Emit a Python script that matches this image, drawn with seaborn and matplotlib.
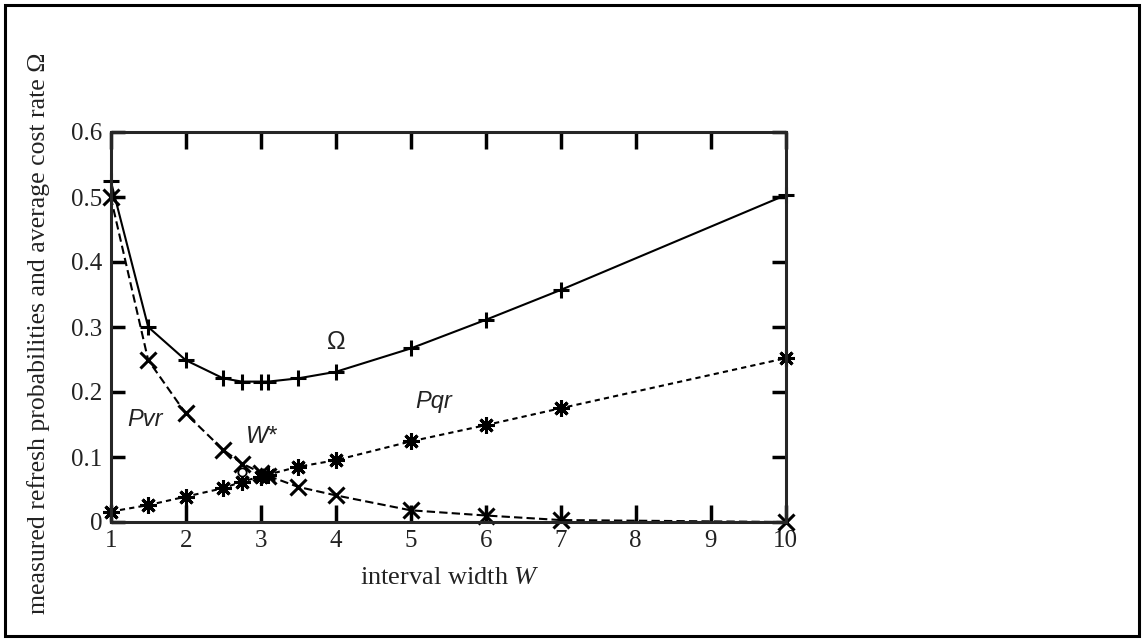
import numpy as np
import pandas as pd
import matplotlib
matplotlib.use("Agg")
import matplotlib.pyplot as plt
from matplotlib.patches import Rectangle
import seaborn as sns

# interval widths W at which the three quantities were measured
widths = [1.0, 1.5, 2.0, 2.5, 2.75, 3.0, 3.1, 3.5, 4.0, 5.0, 6.0, 7.0, 10.0]

# average cost rate (solid, "+")
omega = [0.525, 0.300, 0.249, 0.221, 0.216, 0.216, 0.216, 0.221, 0.231, 0.267, 0.311, 0.357, 0.503]
# value-initiated refresh probability (long dashes, "x")
p_vr = [0.500, 0.249, 0.167, 0.111, 0.090, 0.076, 0.071, 0.054, 0.041, 0.018, 0.010, 0.003, 0.000]
# query-initiated refresh probability (short dashes, asterisk)
p_qr = [0.016, 0.026, 0.039, 0.052, 0.062, 0.070, 0.073, 0.085, 0.095, 0.124, 0.149, 0.175, 0.252]

# optimum marked on the plot
w_star = 2.75
w_star_y = 0.077

series_names = ["Omega", "Pvr", "Pqr"]

sns.set_style("white")
plt.rcParams.update({
    "font.family": ["Liberation Serif", "DejaVu Serif"],
    "mathtext.fontset": "custom",
    "mathtext.rm": "Liberation Serif",
    "mathtext.it": "Liberation Serif:italic",
    "axes.linewidth": 2.2,
    "xtick.direction": "in",
    "ytick.direction": "in",
})

df = pd.DataFrame({
    "W": widths * 3,
    "value": omega + p_vr + p_qr,
    "series": np.repeat(series_names, len(widths)),
})

fig = plt.figure(figsize=(11.45, 6.41), dpi=100)
ax = fig.add_axes([110.7 / 1145, 1 - 522 / 641, 675 / 1145, 390 / 641])

sns.lineplot(
    data=df, x="W", y="value",
    hue="series", style="series",
    palette={"Omega": "k", "Pvr": "k", "Pqr": "k"},
    markers={"Omega": "+", "Pvr": "x", "Pqr": (8, 2, 0)},
    dashes={"Omega": "", "Pvr": (4, 2), "Pqr": (2.5, 2)},
    markersize=12, markeredgecolor="k", markeredgewidth=2.2,
    linewidth=1.5, legend=False, ax=ax, clip_on=False,
)
ax.plot([w_star], [w_star_y], marker="o", ms=6, mfc="white", mec="k", mew=1.3, ls="none", zorder=5)

ax.set_xlim(1, 10)
ax.set_ylim(0, 0.6)
ax.set_xticks(range(1, 11))
ax.set_yticks([0, 0.1, 0.2, 0.3, 0.4, 0.5, 0.6])
ax.set_yticklabels(["0", "0.1", "0.2", "0.3", "0.4", "0.5", "0.6"])
ax.tick_params(axis="x", which="major", length=12, width=2.5, top=True, bottom=True,
               labelsize=18, pad=6, colors="k")
ax.tick_params(axis="y", which="major", length=10, width=2.5, left=True, right=True,
               labelsize=18, pad=6, colors="k")
for lab in ax.get_xticklabels() + ax.get_yticklabels():
    lab.set_color("#222222")

ax.set_xlabel("interval width $W$", fontsize=19, color="#222222")
ax.xaxis.set_label_coords(0.503, -0.115)
ax.set_ylabel("measured refresh probabilities and average cost rate Ω", fontsize=18.5, color="#222222")
ax.yaxis.set_label_coords(-0.09, 0.485)

# curve annotations
sans_it = dict(family=["Liberation Sans", "DejaVu Sans"], style="italic", fontsize=17,
               ha="center", va="center", color="#222222")
ax.text(1.46, 0.157, "Pvr", **sans_it)
ax.text(3.01, 0.131, "W*", **sans_it)
ax.text(5.30, 0.185, "Pqr", **sans_it)
ax.text(4.01, 0.277, "Ω", family=["Liberation Sans", "DejaVu Sans"], fontsize=18,
        ha="center", va="center", color="#222222")

# black frame around the whole picture
fig.patches.append(Rectangle((5 / 1145, 5 / 641), 1134 / 1145, 631 / 641,
                             transform=fig.transFigure, fill=False, lw=2.2, ec="k"))

fig.savefig("out.png", dpi=100)
